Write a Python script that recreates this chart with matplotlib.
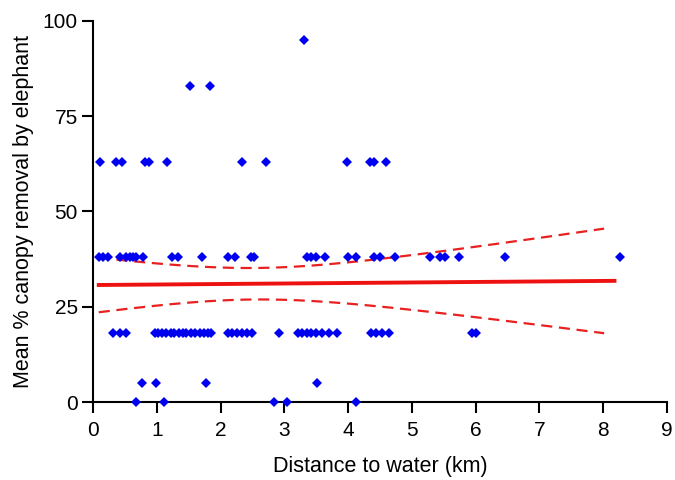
import matplotlib.pyplot as plt
import numpy as np

# distance to water (km) of each site, grouped by its canopy removal value (%)
dist_95 = [3.31]
dist_83 = [1.52, 1.84]
dist_63 = [0.11, 0.36, 0.45, 0.82, 0.88, 1.16, 2.33, 2.71, 3.98, 4.34, 4.40,
           4.59]
dist_38 = [0.09, 0.16, 0.24, 0.43, 0.51, 0.58, 0.63, 0.67, 0.79, 1.24, 1.34,
           1.71, 2.12, 2.23, 2.48, 2.52, 3.35, 3.42, 3.50, 3.64, 4.00, 4.13,
           4.40, 4.50, 4.73, 5.28, 5.44, 5.52, 5.74, 6.46, 8.26]
dist_18 = [0.32, 0.42, 0.51, 0.97, 1.02, 1.08, 1.15, 1.22, 1.27, 1.35, 1.41,
           1.46, 1.53, 1.60, 1.68, 1.74, 1.80, 1.85, 2.11, 2.18, 2.26, 2.34,
           2.41, 2.49, 2.91, 3.22, 3.28, 3.35, 3.42, 3.50, 3.59, 3.70, 3.83,
           4.36, 4.44, 4.53, 4.64, 5.94, 6.00]
dist_5 = [0.77, 0.99, 1.78, 3.52]
dist_0 = [0.67, 1.11, 2.84, 3.04, 4.12]

canopy_levels = [95, 83, 63, 38, 18, 5, 0]
distance_groups = [dist_95, dist_83, dist_63, dist_38, dist_18, dist_5, dist_0]

X_TICKS = list(range(0, 10))
Y_TICKS = [0, 25, 50, 75, 100]


def fit_with_ci(x, y, x_line):
    # ordinary least squares with a 95% confidence band for the mean
    n = len(x)
    slope, intercept = np.polyfit(x, y, 1)
    resid = y - (intercept + slope * x)
    s = np.sqrt(np.sum(resid ** 2) / (n - 2))
    x_mean = x.mean()
    sxx = np.sum((x - x_mean) ** 2)
    se = s * np.sqrt(1 / n + (x_line - x_mean) ** 2 / sxx)
    y_line = intercept + slope * x_line
    t_crit = 1.986
    return y_line, y_line - t_crit * se, y_line + t_crit * se


def main():
    x = np.concatenate([np.array(d, dtype=float) for d in distance_groups])
    y = np.concatenate(
        [np.full(len(d), lvl, dtype=float) for d, lvl in zip(distance_groups, canopy_levels)]
    )

    plt.rcParams["font.family"] = ["Liberation Sans", "DejaVu Sans"]

    fig = plt.figure(figsize=(6.75, 4.8), dpi=100)
    ax = fig.add_axes([0.1378, 0.1625, 0.850, 0.794])

    x_line = np.linspace(x.min(), x.max() - 0.08, 200)
    y_line, y_low, y_high = fit_with_ci(x, y, x_line)

    ax.plot(x_line, y_line, color="#ee1111", linewidth=2.8, zorder=2)
    ax.plot(x_line[:-4], y_low[:-4], color="#e82020", linewidth=1.6,
            dashes=(5, 3), zorder=2)
    ax.plot(x_line[:-4], y_high[:-4], color="#e82020", linewidth=1.6,
            dashes=(5, 3), zorder=2)

    ax.plot(x, y, linestyle="none", marker="D", markersize=4.6,
            color="#0000f0", markeredgewidth=0, clip_on=False, zorder=3)

    ax.set_xlim(0, 9)
    ax.set_ylim(0, 100)
    ax.set_xticks(X_TICKS)
    ax.set_yticks(Y_TICKS)

    for side in ("top", "right"):
        ax.spines[side].set_visible(False)
    for side in ("left", "bottom"):
        ax.spines[side].set_linewidth(1.5)

    ax.tick_params(axis="both", direction="out", width=1.5, length=8,
                   labelsize=15)
    ax.tick_params(axis="x", pad=6)
    ax.tick_params(axis="y", pad=3)

    ax.set_xlabel("Distance to water (km)", fontsize=15.5, labelpad=11)
    ax.set_ylabel("Mean % canopy removal by elephant", fontsize=15.5,
                  labelpad=6)

    plt.savefig("out.png", dpi=100)


if __name__ == "__main__":
    main()
